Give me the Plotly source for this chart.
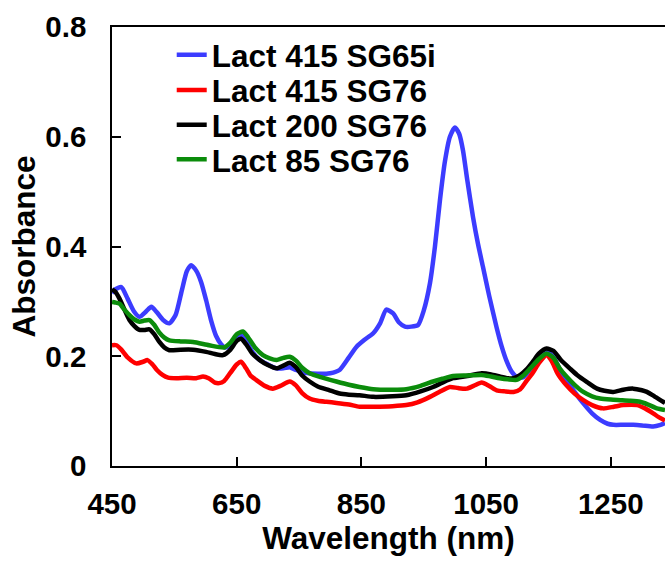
import plotly.graph_objects as go

# ---- data ----
names = ["Lact 415 SG65i", "Lact 415 SG76", "Lact 200 SG76", "Lact 85 SG76"]
colors = ["#3c3cff", "#ff0000", "#000000", "#0b8c0b"]

wl_blue = [450, 455, 465, 475, 485, 494, 505, 513, 522, 532, 542, 552, 562, 570, 577, 585, 593, 601, 609, 617,
           625, 632, 640, 650, 657, 665, 675, 687, 700, 714, 725, 735, 745, 760, 780, 800, 815, 830, 842, 855,
           869, 880, 890, 901, 910, 920, 930, 941, 950, 960, 968, 976, 984, 992, 1000, 1007, 1013, 1020, 1029,
           1037, 1045, 1055, 1067, 1075, 1083, 1091, 1100, 1110, 1120, 1130, 1140, 1150, 1160, 1170, 1179,
           1192, 1206, 1220, 1233, 1245, 1254, 1270, 1286, 1300, 1318, 1330, 1337]
ab_blue = [0.315, 0.322, 0.326, 0.305, 0.282, 0.272, 0.282, 0.290, 0.280, 0.266, 0.260, 0.275, 0.320, 0.355,
           0.366, 0.356, 0.335, 0.302, 0.265, 0.237, 0.222, 0.216, 0.220, 0.232, 0.239, 0.228, 0.208, 0.193,
           0.185, 0.178, 0.178, 0.180, 0.175, 0.170, 0.168, 0.169, 0.175, 0.198, 0.217, 0.230, 0.242, 0.260,
           0.285, 0.278, 0.262, 0.254, 0.254, 0.257, 0.283, 0.333, 0.400, 0.484, 0.555, 0.600, 0.617, 0.605,
           0.575, 0.520, 0.454, 0.405, 0.363, 0.310, 0.252, 0.218, 0.191, 0.172, 0.162, 0.162, 0.175, 0.190,
           0.203, 0.208, 0.195, 0.172, 0.157, 0.135, 0.114, 0.096, 0.084, 0.077, 0.075, 0.075, 0.075, 0.074,
           0.072, 0.075, 0.078]

wl_red = [450, 457, 465, 475, 489, 500, 507, 515, 522, 531, 540, 553, 570, 585, 596, 605, 615, 622, 630, 640,
          650, 657, 665, 672, 681, 695, 708, 720, 735, 745, 755, 767, 780, 794, 810, 830, 847, 870, 900, 922,
          940, 960, 975, 992, 1005, 1019, 1030, 1043, 1055, 1067, 1080, 1094, 1105, 1115, 1125, 1135, 1147,
          1155, 1165, 1179, 1192, 1206, 1220, 1238, 1255, 1270, 1292, 1305, 1318, 1327, 1337]
ab_red = [0.220, 0.220, 0.212, 0.198, 0.187, 0.190, 0.193, 0.185, 0.175, 0.166, 0.161, 0.160, 0.161, 0.160,
          0.163, 0.160, 0.152, 0.151, 0.155, 0.170, 0.185, 0.190, 0.178, 0.165, 0.157, 0.146, 0.141, 0.146,
          0.154, 0.147, 0.133, 0.123, 0.119, 0.117, 0.115, 0.112, 0.108, 0.108, 0.109, 0.111, 0.116, 0.126,
          0.135, 0.144, 0.142, 0.141, 0.146, 0.152, 0.146, 0.138, 0.136, 0.135, 0.140, 0.155, 0.170, 0.188,
          0.202, 0.192, 0.168, 0.147, 0.132, 0.120, 0.111, 0.105, 0.108, 0.111, 0.111, 0.105, 0.096, 0.089,
          0.083]

wl_black = [450, 455, 462, 470, 478, 486, 494, 502, 510, 518, 526, 534, 542, 560, 580, 601, 615, 628, 640, 650,
            657, 665, 675, 687, 700, 714, 725, 735, 745, 755, 767, 780, 799, 815, 830, 847, 869, 900, 922, 945,
            965, 980, 997, 1020, 1043, 1058, 1072, 1085, 1094, 1105, 1115, 1125, 1135, 1147, 1158, 1170, 1185,
            1196, 1212, 1228, 1240, 1254, 1270, 1286, 1300, 1308, 1320, 1334, 1337]
ab_black = [0.322, 0.318, 0.305, 0.285, 0.266, 0.255, 0.248, 0.248, 0.249, 0.240, 0.226, 0.216, 0.211, 0.212,
            0.212, 0.208, 0.204, 0.202, 0.212, 0.228, 0.232, 0.222, 0.205, 0.193, 0.184, 0.178, 0.183, 0.188,
            0.180, 0.165, 0.154, 0.145, 0.138, 0.132, 0.130, 0.129, 0.126, 0.127, 0.129, 0.136, 0.144, 0.152,
            0.160, 0.164, 0.169, 0.167, 0.163, 0.160, 0.160, 0.166, 0.176, 0.190, 0.205, 0.214, 0.210, 0.193,
            0.177, 0.166, 0.153, 0.141, 0.137, 0.135, 0.139, 0.141, 0.138, 0.135, 0.127, 0.117, 0.115]

wl_green = [450, 455, 462, 470, 478, 486, 494, 502, 510, 518, 526, 534, 542, 560, 580, 606, 630, 640, 650, 660,
            668, 680, 692, 703, 714, 725, 735, 745, 755, 767, 785, 810, 830, 847, 869, 900, 922, 945, 965, 980,
            997, 1020, 1043, 1058, 1072, 1085, 1099, 1110, 1121, 1135, 1147, 1158, 1168, 1179, 1192, 1206, 1220,
            1233, 1250, 1265, 1280, 1297, 1310, 1324, 1337]
ab_green = [0.299, 0.298, 0.296, 0.285, 0.275, 0.267, 0.263, 0.265, 0.266, 0.257, 0.243, 0.234, 0.229, 0.227,
            0.226, 0.220, 0.216, 0.225, 0.240, 0.245, 0.235, 0.215, 0.202, 0.196, 0.193, 0.197, 0.199, 0.192,
            0.179, 0.169, 0.162, 0.154, 0.148, 0.144, 0.140, 0.139, 0.140, 0.146, 0.154, 0.159, 0.164, 0.165,
            0.166, 0.163, 0.160, 0.158, 0.157, 0.165, 0.178, 0.195, 0.205, 0.197, 0.178, 0.163, 0.148, 0.135,
            0.127, 0.123, 0.121, 0.120, 0.119, 0.117, 0.112, 0.105, 0.102]

x_ticks = [450, 650, 850, 1050, 1250]
y_ticks = [0, 0.2, 0.4, 0.6, 0.8]
y_tick_text = ["0", "0.2", "0.4", "0.6", "0.8"]

series = [(wl_blue, ab_blue), (wl_red, ab_red), (wl_black, ab_black), (wl_green, ab_green)]

FONT = "Liberation Sans, Arial, sans-serif"
legend_font = dict(family=FONT, size=31.5, color="black", weight="bold")
legend_tops = [0.998, 0.918, 0.839, 0.760]   # one compact legend box per entry

fig = go.Figure()
legend_layout = {}
for i, ((xs, ys), name, col) in enumerate(zip(series, names, colors)):
    key = "legend" if i == 0 else f"legend{i + 1}"
    fig.add_trace(go.Scatter(x=xs, y=ys, mode="lines", name=name, legend=key,
                             line=dict(color=col, width=4.5, shape="spline", smoothing=0.6)))
    legend_layout[key] = dict(x=0.108, y=legend_tops[i], xanchor="left", yanchor="top",
                              font=legend_font, bgcolor="rgba(0,0,0,0)", borderwidth=0)

fig.update_layout(
    width=665, height=565,
    margin=dict(l=112, r=0, t=27, b=99),
    paper_bgcolor="white", plot_bgcolor="white",
    showlegend=True,
    font=dict(family=FONT, color="black"),
    **legend_layout,
)
fig.update_xaxes(range=[450, 1337], tickvals=x_ticks, ticks="inside", ticklen=9, tickwidth=1.5,
                 tickcolor="black", showline=True, linecolor="black", linewidth=1.5, mirror=True,
                 showgrid=False, zeroline=False,
                 tickfont=dict(family=FONT, size=29.5, color="black", weight="bold"),
                 ticklabelstandoff=11,
                 title=dict(text="Wavelength (nm)", standoff=8,
                            font=dict(family=FONT, size=31.5, color="black", weight="bold")))
fig.update_yaxes(range=[0, 0.8], tickvals=y_ticks, ticktext=y_tick_text, ticks="inside", ticklen=9,
                 tickwidth=1.5, tickcolor="black", showline=True, linecolor="black", linewidth=1.5,
                 showgrid=False, zeroline=False,
                 tickfont=dict(family=FONT, size=29.5, color="black", weight="bold"),
                 ticklabelstandoff=18,
                 title=dict(text="Absorbance", standoff=0,
                            font=dict(family=FONT, size=31.5, color="black", weight="bold")))

fig.write_html("out.html")
